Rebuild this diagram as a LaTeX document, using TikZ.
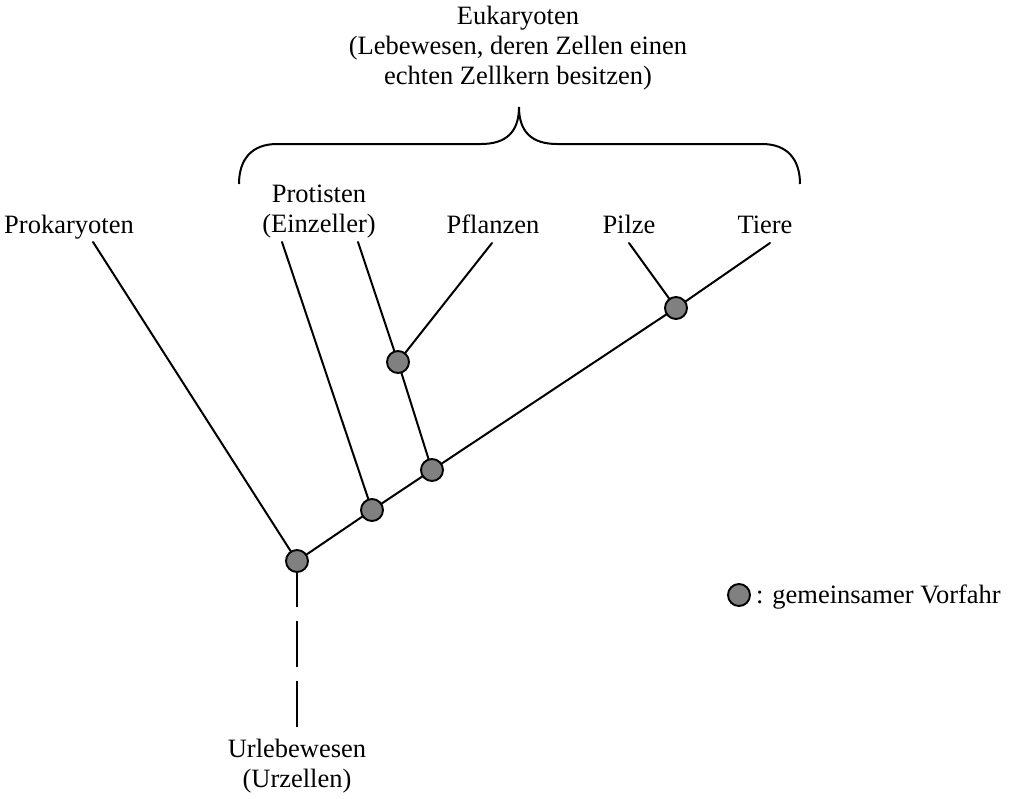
\documentclass[tikz,border=0pt]{standalone}
\usepackage{fontspec}
\setmainfont{Liberation Serif}
\usetikzlibrary{backgrounds}
\definecolor{ancgray}{HTML}{808080}
\begin{document}
\begin{tikzpicture}[x=1pt,y=-1pt,
  every node/.style={font=\fontsize{26.5}{30}\selectfont},
  anc/.style={circle,draw=black,fill=ancgray,line width=1.9pt,minimum size=22pt,inner sep=0pt},
  lbl/.style={inner sep=0pt,anchor=base},
  mlbl/.style={inner sep=0pt,anchor=north,align=center},
  edge/.style={line width=2pt,line cap=round},
  brace/.style={line width=2pt}]
\useasboundingbox (0,0) rectangle (1017,798);
% ancestor nodes
\node[anc] (root) at (297,561) {};
\node[anc] (n2) at (372,510) {};
\node[anc] (n3) at (432,470) {};
\node[anc] (n4) at (398,362) {};
\node[anc] (n5) at (676,308) {};
% labels
\node[lbl] (prok) at (69,233) {Prokaryoten};
\node[mlbl] (prot) at (319,185) {Protisten\\(Einzeller)};
\node[lbl] (pfl) at (493,233) {Pflanzen};
\node[lbl] (pil) at (629,233) {Pilze};
\node[lbl] (tie) at (765,233) {Tiere};
\node[mlbl] (euk) at (518,6) {Eukaryoten\\(Lebewesen, deren Zellen einen\\echten Zellkern besitzen)};
\node[mlbl] (url) at (297,739) {Urlebewesen\\(Urzellen)};
% connector ends
\coordinate (cprok) at (93,242);
\coordinate (cpe1) at (282,242);
\coordinate (cpe2) at (358,242);
\coordinate (cpfl) at (492,243);
\coordinate (cpil) at (629,243);
\coordinate (ctie) at (770,243);
\coordinate (curl) at (297,727);
\begin{scope}[on background layer]
\draw[edge] (cprok) -- (root.center);
\draw[edge] (root.center) -- (n2.center) -- (n3.center) -- (n5.center) -- (ctie);
\draw[edge] (cpe1) -- (n2.center);
\draw[edge] (cpe2) -- (n4.center);
\draw[edge] (cpfl) -- (n4.center);
\draw[edge] (n4.center) -- (n3.center);
\draw[edge] (cpil) -- (n5.center);
\draw[line width=2pt,dash pattern=on 46pt off 14pt] (root.center) -- (curl);
\end{scope}
% brace
\coordinate (bl) at (239,184);
\coordinate (bt) at (519,107);
\coordinate (br) at (800,184);
\draw[brace] (bl) .. controls (239,159) and (252,144) .. (277,144) -- (481,144)
  .. controls (506,144) and (519,132) .. (bt)
  .. controls (519,132) and (532,144) .. (557,144) -- (762,144)
  .. controls (787,144) and (800,159) .. (br);
% legend
\node[anc] (leg) at (739,595) {};
\node[inner sep=0pt,anchor=base west] (legt) at (756,603) {: gemeinsamer Vorfahr};
\end{tikzpicture}
\end{document}
